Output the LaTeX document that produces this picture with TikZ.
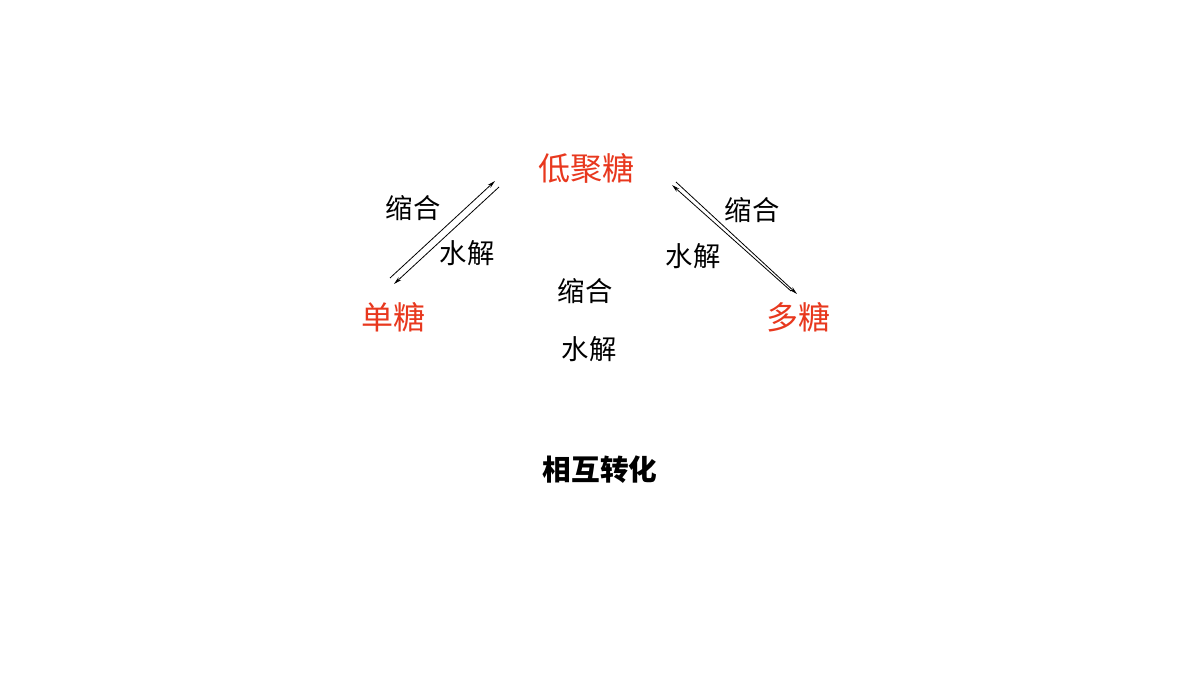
\documentclass[tikz,border=0pt]{standalone}
\usepackage{fontspec}
\setmainfont{Noto Sans CJK SC}
\usetikzlibrary{arrows.meta}
\definecolor{sugarred}{RGB}{232,56,30}
\begin{document}
\begin{tikzpicture}[x=0.75pt,y=-0.75pt]
            \tikzset{
                sugar node/.style={text=sugarred,font=\fontsize{24}{28}\selectfont,inner sep=0},
                react node/.style={font=\fontsize{20.5}{24}\selectfont,inner sep=0},
                title node/.style={font=\fontsize{21.5}{26}\selectfont\bfseries,inner sep=0},
                conv/.style={line width=0.6pt,-{Stealth[length=6pt,width=3pt]}}
            }
            \useasboundingbox (0,0) rectangle (1200,675);
            \node[sugar node] (oligo) at (586,168) {低聚糖};
            \node[sugar node] (mono) at (393,317) {单糖};
            \node[sugar node] (poly) at (798,317) {多糖};
            \node[react node] (condL) at (413,208) {缩合};
            \node[react node] (hydL) at (467,253) {水解};
            \node[react node] (condR) at (752,210) {缩合};
            \node[react node] (hydR) at (693,256) {水解};
            \node[react node] (condM) at (585,291) {缩合};
            \node[react node] (hydM) at (589,349) {水解};
            \node[title node] (convert) at (600,470) {相互转化};
            \coordinate (mL1) at (390,278);
            \coordinate (oL1) at (495,181);
            \coordinate (oL2) at (499,187);
            \coordinate (mL2) at (394,284);
            \coordinate (oR1) at (676,182);
            \coordinate (pR1) at (797,294);
            \coordinate (pR2) at (791,291);
            \coordinate (oR2) at (672,185);
            \draw[conv] (mL1) -- (oL1);
            \draw[conv] (oL2) -- (mL2);
            \draw[conv] (oR1) -- (pR1);
            \draw[conv] (pR2) -- (oR2);
\end{tikzpicture}
\end{document}
